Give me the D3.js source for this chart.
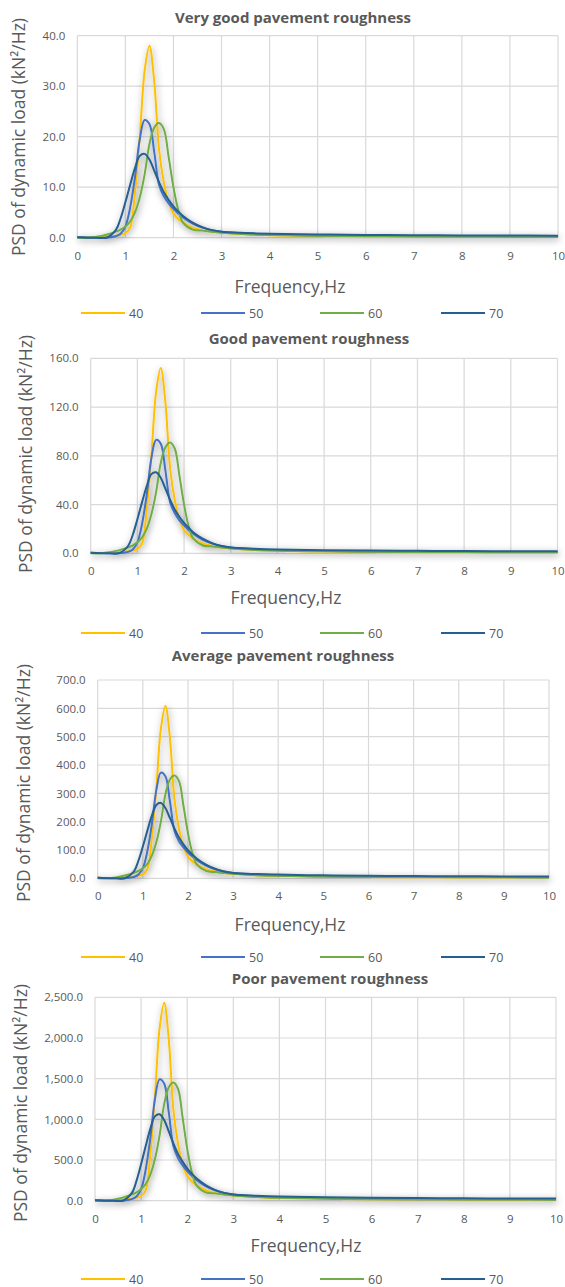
<!DOCTYPE html>
<html>
<head>
<meta charset="utf-8">
<script src="https://cdn.jsdelivr.net/npm/d3@7"></script>
<style>
  html, body { margin: 0; padding: 0; background: #fff; }
  svg { display: block; }
  text { font-family: "Open Sans", "Noto Sans", sans-serif; fill: #595959; }
</style>
</head>
<body>
<svg id="chart" width="565" height="1287"></svg>
<script>
// ---------- DATA ----------
const frequency = [0, 0.2, 0.4, 0.6, 0.8, 0.9, 1.0, 1.1, 1.2, 1.3, 1.4, 1.5, 1.6, 1.7, 1.8, 1.9, 2.0, 2.1, 2.2, 2.4, 2.6, 2.8, 3.0, 3.5, 4, 5, 6, 7, 8, 9, 10];
const seriesNames = ["40", "50", "60", "70"];
const seriesColors = ["#FFC000", "#4472C4", "#70AD47", "#255E91"];
const panelTitles = ["Very good pavement roughness", "Good pavement roughness", "Average pavement roughness", "Poor pavement roughness"];
const xTicks = [0, 1, 2, 3, 4, 5, 6, 7, 8, 9, 10];
const yTicks1 = [0, 10, 20, 30, 40];
const yTicks2 = [0, 40, 80, 120, 160];
const yTicks3 = [0, 100, 200, 300, 400, 500, 600, 700];
const yTicks4 = [0, 500, 1000, 1500, 2000, 2500];

// Very good
const veryGood40 = [0.1, 0.05, 0.05, 0.2, 0.4, 0.6, 0.9, 2.0, 9, 20, 33, 38, 31, 17.5, 11, 7, 4.8, 3.7, 3.0, 2.0, 1.5, 1.2, 1.0, 0.7, 0.5, 0.35, 0.28, 0.22, 0.2, 0.18, 0.15];
const veryGood50 = [0.1, 0.05, 0.02, 0.0, 0.3, 0.8, 2.2, 6, 12, 19.5, 23.3, 22.5, 17, 10.5, 8.2, 6.8, 5.7, 4.8, 4.0, 2.8, 2.0, 1.5, 1.2, 0.85, 0.65, 0.45, 0.35, 0.3, 0.28, 0.26, 0.25];
const veryGood60 = [0.0, 0.0, 0.2, 0.6, 1.2, 1.6, 2.2, 3.2, 5, 8, 12.5, 18.5, 21.8, 22.7, 21.5, 16, 10, 5.5, 3.0, 1.6, 1.4, 1.2, 1.0, 0.7, 0.55, 0.4, 0.3, 0.27, 0.25, 0.22, 0.2];
const veryGood70 = [0.1, 0.0, 0.0, 0.0, 1.5, 3.8, 7, 10.5, 13.8, 16.2, 16.6, 15.5, 13.3, 11, 9, 7.5, 6.2, 5.2, 4.3, 3.0, 2.1, 1.5, 1.2, 0.95, 0.8, 0.65, 0.55, 0.5, 0.45, 0.42, 0.4];
// Good
const good40 = [0.4, 0.2, 0.2, 0.8, 1.6, 2.4, 3.6, 8, 36, 80, 132, 152, 124, 70, 44, 28, 19, 15, 12, 8, 6, 4.8, 4, 2.8, 2, 1.4, 1.1, 0.9, 0.8, 0.7, 0.6];
const good50 = [0.4, 0.2, 0.1, 0, 1.2, 3.2, 9, 24, 48, 78, 93, 90, 68, 42, 33, 27, 23, 19, 16, 11, 8, 6, 4.8, 3.4, 2.6, 1.8, 1.4, 1.2, 1.1, 1.0, 1.0];
const good60 = [0, 0, 0.8, 2.4, 4.8, 6.4, 9, 13, 20, 32, 50, 74, 87, 91, 86, 64, 40, 22, 12, 6.4, 5.6, 4.8, 4, 2.8, 2.2, 1.6, 1.2, 1.1, 1.0, 0.9, 0.8];
const good70 = [0.4, 0, 0, 0, 6, 15, 28, 42, 55, 65, 66.5, 62, 53, 44, 36, 30, 25, 21, 17, 12, 8.4, 6, 4.8, 3.8, 3.2, 2.6, 2.2, 2, 1.8, 1.7, 1.6];
// Average
const average40 = [1.6, 0.8, 0.8, 3.2, 6.4, 9.6, 14, 32, 144, 320, 528, 608, 496, 280, 176, 112, 77, 59, 48, 32, 24, 19, 16, 11, 8, 5.6, 4.5, 3.5, 3.2, 2.9, 2.4];
const average50 = [1.6, 0.8, 0.3, 0, 4.8, 13, 35, 96, 192, 312, 373, 360, 272, 168, 131, 109, 91, 77, 64, 45, 32, 24, 19, 14, 10, 7.2, 5.6, 4.8, 4.5, 4.2, 4.0];
const average60 = [0, 0, 3.2, 9.6, 19, 26, 35, 51, 80, 128, 200, 296, 349, 363, 344, 256, 160, 88, 48, 26, 22, 19, 16, 11, 8.8, 6.4, 4.8, 4.3, 4, 3.5, 3.2];
const average70 = [1.6, 0, 0, 0, 24, 61, 112, 168, 221, 259, 266, 248, 213, 176, 144, 120, 99, 83, 69, 48, 34, 24, 19, 15, 13, 10.4, 8.8, 8, 7.2, 6.7, 6.4];
// Poor
const poor40 = [6, 3, 3, 13, 26, 38, 58, 128, 576, 1280, 2112, 2432, 1984, 1120, 704, 448, 307, 237, 192, 128, 96, 77, 64, 45, 32, 22, 18, 14, 13, 12, 10];
const poor50 = [6, 3, 1, 0, 19, 51, 141, 384, 768, 1248, 1491, 1440, 1088, 672, 525, 435, 365, 307, 256, 179, 128, 96, 77, 54, 42, 29, 22, 19, 18, 17, 16];
const poor60 = [0, 0, 13, 38, 77, 102, 141, 205, 320, 512, 800, 1184, 1395, 1453, 1376, 1024, 640, 352, 192, 102, 90, 77, 64, 45, 35, 26, 19, 17, 16, 14, 13];
const poor70 = [6, 0, 0, 0, 96, 243, 448, 672, 883, 1037, 1062, 992, 851, 704, 576, 480, 397, 333, 275, 192, 134, 96, 77, 61, 51, 42, 35, 32, 29, 27, 26];

const xTitle = "Frequency,Hz";
const yTitle = "PSD of dynamic load (kN\u00B2/Hz)";

// ---------- LAYOUT ----------
const layouts = [
  { left: 77.3, right: 558, top: 35.7, bottom: 237.7, titleX: 293, titleY: 17, xLabY: 256, xTitleX: 290, xTitleY: 286, legY: 313, yTitleX: 17.5, yTitleY: 137 },
  { left: 90.7, right: 557.5, top: 358.3, bottom: 553.3, titleX: 309, titleY: 338, xLabY: 571, xTitleX: 286, xTitleY: 597, legY: 633, yTitleX: 25, yTitleY: 454 },
  { left: 97.7, right: 549, top: 680, bottom: 878.3, titleX: 283, titleY: 655, xLabY: 896, xTitleX: 290, xTitleY: 924, legY: 957, yTitleX: 23, yTitleY: 783 },
  { left: 95, right: 556, top: 997.3, bottom: 1200.7, titleX: 330, titleY: 978, xLabY: 1219, xTitleX: 306, xTitleY: 1245, legY: 1279, yTitleX: 19.5, yTitleY: 1103 }
];
const legendX = [81, 201, 320, 441];

const panels = [
  { title: panelTitles[0], yTicks: yTicks1, values: [veryGood40, veryGood50, veryGood60, veryGood70] },
  { title: panelTitles[1], yTicks: yTicks2, values: [good40, good50, good60, good70] },
  { title: panelTitles[2], yTicks: yTicks3, values: [average40, average50, average60, average70] },
  { title: panelTitles[3], yTicks: yTicks4, values: [poor40, poor50, poor60, poor70] }
];

const svg = d3.select("#chart");
const defs = svg.append("defs");
const f = defs.append("filter").attr("id", "shadow").attr("x", "-20%").attr("y", "-20%").attr("width", "140%").attr("height", "140%");
f.append("feDropShadow").attr("dx", 1).attr("dy", 2).attr("stdDeviation", 3.5)
  .attr("flood-color", "#000").attr("flood-opacity", 0.4);

const fmt = d3.format(",.1f");

panels.forEach((p, i) => {
  const L = layouts[i];
  const yMax = p.yTicks[p.yTicks.length - 1];
  const x = d3.scaleLinear().domain([0, 10]).range([L.left, L.right]);
  const y = d3.scaleLinear().domain([0, yMax]).range([L.bottom, L.top]);
  const g = svg.append("g");

  // gridlines
  g.append("g").selectAll("line.h").data(p.yTicks).join("line")
    .attr("x1", L.left).attr("x2", L.right)
    .attr("y1", d => y(d)).attr("y2", d => y(d))
    .attr("stroke", "#d9d9d9").attr("stroke-width", 1.2);
  g.append("g").selectAll("line.v").data(xTicks).join("line")
    .attr("x1", d => x(d)).attr("x2", d => x(d))
    .attr("y1", L.top).attr("y2", L.bottom)
    .attr("stroke", "#d9d9d9").attr("stroke-width", 1.2);

  // axes labels via d3 axes
  const xAxis = d3.axisBottom(x).tickValues(xTicks).tickSize(0).tickPadding(0).tickFormat(d3.format("d"));
  const xa = g.append("g").attr("transform", `translate(0,${L.xLabY})`).call(xAxis);
  xa.select(".domain").remove();
  xa.selectAll("text").attr("dy", "0.35em").attr("y", 0)
    .style("font-family", "'Open Sans', sans-serif").style("font-size", "11.5px").attr("fill", "#595959");

  const yAxis = d3.axisLeft(y).tickValues(p.yTicks).tickSize(0).tickPadding(12).tickFormat(fmt);
  const ya = g.append("g").attr("transform", `translate(${L.left},0)`).call(yAxis);
  ya.select(".domain").remove();
  ya.selectAll("text").style("font-family", "'Open Sans', sans-serif").style("font-size", "11.5px").attr("fill", "#595959");

  // lines
  const line = d3.line().x((d, k) => x(frequency[k])).y(d => y(d)).curve(d3.curveCatmullRom.alpha(0.5));
  const lg = g.append("g").attr("filter", "url(#shadow)");
  p.values.forEach((vals, s) => {
    lg.append("path").datum(vals).attr("d", line)
      .attr("fill", "none").attr("stroke", seriesColors[s]).attr("stroke-width", 2)
      .attr("stroke-linejoin", "round");
  });

  // title
  g.append("text").attr("x", L.titleX).attr("y", L.titleY).attr("text-anchor", "middle")
    .attr("dominant-baseline", "central").style("font-size", "15px").style("font-weight", "bold").text(p.title);
  // x title
  g.append("text").attr("x", L.xTitleX).attr("y", L.xTitleY).attr("text-anchor", "middle")
    .attr("dominant-baseline", "central").style("font-size", "17.5px").text(xTitle);
  // y title
  g.append("text").attr("transform", `translate(${L.yTitleX},${L.yTitleY}) rotate(-90)`).attr("text-anchor", "middle")
    .attr("dominant-baseline", "central").style("font-size", "17.5px").text(yTitle);

  // legend
  seriesNames.forEach((nm, s) => {
    g.append("line").attr("x1", legendX[s]).attr("x2", legendX[s] + 44)
      .attr("y1", L.legY).attr("y2", L.legY).attr("stroke", seriesColors[s]).attr("stroke-width", 2);
    g.append("text").attr("x", legendX[s] + 48).attr("y", L.legY).attr("dominant-baseline", "central")
      .style("font-size", "12.5px").text(nm);
  });
});
</script>
</body>
</html>
